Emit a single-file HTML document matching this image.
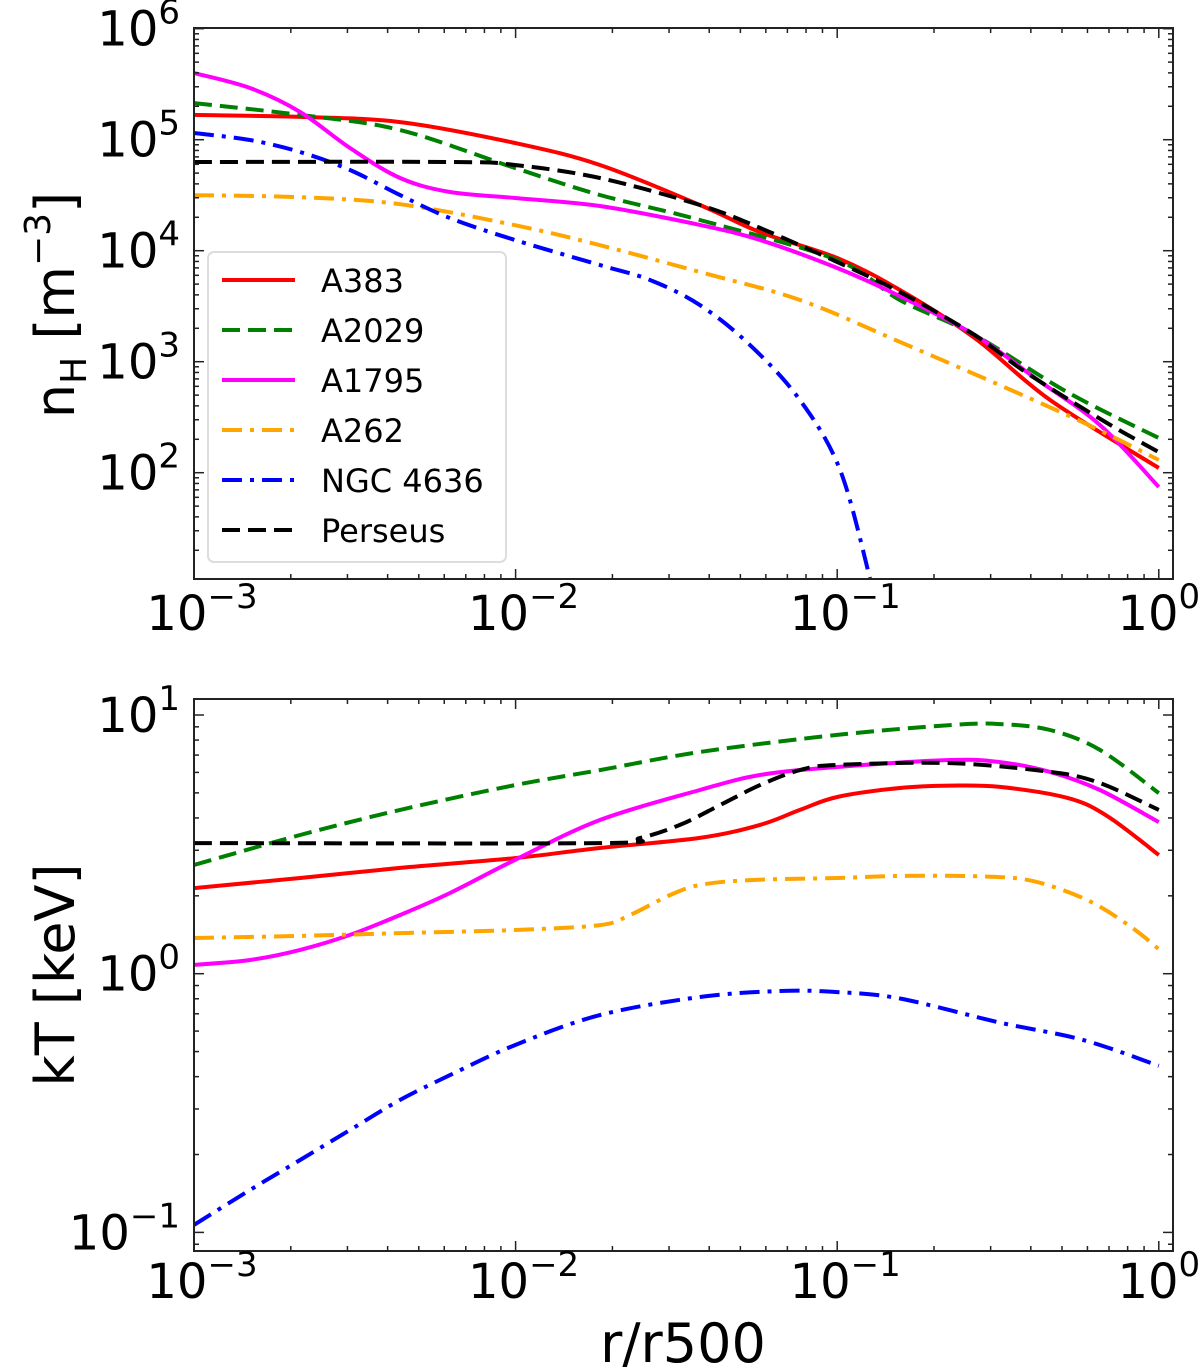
<!DOCTYPE html>
<html><head><meta charset="utf-8"><style>
body{margin:0;background:#fff;}
svg{display:block;font-family:"DejaVu Sans","Liberation Sans",sans-serif;}
</style></head><body>
<svg id="chart" width="1200" height="1370" xmlns="http://www.w3.org/2000/svg"></svg>
<script>
// ---- data (log10 r/r500, log10 value) ----
const seriesNames = ["A383","A2029","A1795","A262","NGC 4636","Perseus"];
const seriesColors = ["#ff0000","#008000","#ff00ff","#ffa500","#0000ff","#000000"];
const seriesDash = ["", "18,8", "", "20,8,4,8", "20,8,4,8", "18,8"];
// top panel: density
const nH_A383_x = [-3,-2.67,-2.359,-2.002,-1.738,-1.427,-1.24,-1.0,-0.805,-0.572,-0.338,0];
const nH_A383_y = [5.223,5.205,5.159,4.97,4.772,4.412,4.168,3.934,3.646,3.213,2.655,2.042];
const nH_A2029_x = [-3,-2.67,-2.359,-2.002,-1.738,-1.427,-1.0,-0.805,-0.572,-0.285,0];
const nH_A2029_y = [5.33,5.223,5.087,4.745,4.502,4.277,3.916,3.555,3.24,2.727,2.313];
const nH_A1795_x = [-3,-2.826,-2.67,-2.515,-2.359,-2.204,-2.002,-1.738,-1.427,-1.24,-1.0,-0.805,-0.572,-0.385,-0.183,0];
const nH_A1795_y = [5.601,5.466,5.25,4.925,4.655,4.529,4.475,4.403,4.232,4.096,3.844,3.59,3.24,2.853,2.43,1.871];
const nH_A262_x = [-3,-2.67,-2.359,-2.002,-1.738,-1.427,-1.116,-0.805,-0.285,0];
const nH_A262_y = [4.5,4.482,4.419,4.23,4.05,3.808,3.556,3.178,2.52,2.114];
const nH_N4636_x = [-3,-2.826,-2.67,-2.515,-2.359,-2.204,-2.002,-1.738,-1.582,-1.427,-1.271,-1.116,-0.991,-0.898];
const nH_N4636_y = [5.06,4.997,4.889,4.727,4.501,4.294,4.096,3.871,3.736,3.51,3.15,2.655,2.024,1.05];
const nH_Per_x = [-3,-2.204,-2.002,-1.738,-1.427,-1.24,-1.0,-0.805,-0.572,-0.41,-0.161,0];
const nH_Per_y = [4.799,4.799,4.772,4.655,4.412,4.205,3.898,3.628,3.24,2.898,2.448,2.186];
// bottom panel: temperature
const kT_A383_x = [-3,-2.67,-2.359,-2.002,-1.738,-1.427,-1.24,-1.116,-1.0,-0.805,-0.649,-0.494,-0.285,-0.161,0];
const kT_A383_y = [0.331,0.37,0.409,0.447,0.486,0.525,0.575,0.633,0.683,0.718,0.727,0.722,0.68,0.61,0.459];
const kT_A2029_x = [-3,-2.67,-2.359,-2.002,-1.738,-1.427,-1.0,-0.649,-0.494,-0.338,-0.183,0];
const kT_A2029_y = [0.42,0.536,0.633,0.729,0.787,0.857,0.923,0.961,0.965,0.942,0.865,0.698];
const kT_A1795_x = [-3,-2.826,-2.67,-2.515,-2.359,-2.204,-2.002,-1.738,-1.427,-1.24,-1.0,-0.649,-0.494,-0.338,-0.183,0];
const kT_A1795_y = [0.034,0.053,0.092,0.15,0.227,0.312,0.44,0.594,0.71,0.768,0.799,0.826,0.818,0.78,0.71,0.586];
const kT_A262_x = [-3,-2.67,-2.359,-2.002,-1.738,-1.644,-1.52,-1.427,-1.271,-1.0,-0.805,-0.547,-0.391,-0.223,-0.09,0];
const kT_A262_y = [0.138,0.146,0.157,0.169,0.188,0.227,0.304,0.343,0.362,0.37,0.378,0.376,0.358,0.285,0.184,0.095];
const kT_N4636_x = [-3,-2.826,-2.67,-2.515,-2.359,-2.204,-2.002,-1.738,-1.427,-1.178,-1.0,-0.805,-0.494,-0.236,0];
const kT_N4636_y = [-0.971,-0.836,-0.72,-0.604,-0.488,-0.392,-0.276,-0.16,-0.09,-0.067,-0.071,-0.096,-0.189,-0.256,-0.356];
const kT_Per_x = [-3,-1.738,-1.613,-1.489,-1.364,-1.24,-1.116,-1.0,-0.649,-0.338,-0.183,0];
const kT_Per_y = [0.505,0.505,0.525,0.575,0.652,0.729,0.787,0.807,0.814,0.78,0.737,0.633];
const xTickExps = [-3,-2,-1,0];
const topTickExps = [2,3,4,5,6];
const botTickExps = [-1,0,1];

const NS="http://www.w3.org/2000/svg";
const svg=document.getElementById('chart');
function mk(tag,attrs,parent){const e=document.createElementNS(NS,tag);for(const k in attrs)e.setAttribute(k,attrs[k]);(parent||svg).appendChild(e);return e;}

const X0=194, XD=321.6, XL=194, XR=1173;
function sx(lx){return X0+(lx+3)*XD;}
function smoothPath(P){
  let d='M'+P[0][0].toFixed(1)+','+P[0][1].toFixed(1);
  for(let i=0;i<P.length-1;i++){
    const p0=P[Math.max(i-1,0)],p1=P[i],p2=P[i+1],p3=P[Math.min(i+2,P.length-1)];
    const c1x=p1[0]+(p2[0]-p0[0])/6,c1y=p1[1]+(p2[1]-p0[1])/6;
    const c2x=p2[0]-(p3[0]-p1[0])/6,c2y=p2[1]-(p3[1]-p1[1])/6;
    d+=' C'+c1x.toFixed(1)+','+c1y.toFixed(1)+' '+c2x.toFixed(1)+','+c2y.toFixed(1)+' '+p2[0].toFixed(1)+','+p2[1].toFixed(1);
  }
  return d;
}
const panels=[
 {top:28,bottom:579,y0:28.7,y0exp:6,yd:111,ymin:1.045,ymax:6.0,exps:topTickExps,name:'density-panel',
  data:[[nH_A383_x,nH_A383_y],[nH_A2029_x,nH_A2029_y],[nH_A1795_x,nH_A1795_y],[nH_A262_x,nH_A262_y],[nH_N4636_x,nH_N4636_y],[nH_Per_x,nH_Per_y]],xlabY:630},
 {top:699,bottom:1251,y0:715,y0exp:1,yd:258.7,ymin:-1.07,ymax:1.06,exps:botTickExps,name:'temperature-panel',
  data:[[kT_A383_x,kT_A383_y],[kT_A2029_x,kT_A2029_y],[kT_A1795_x,kT_A1795_y],[kT_A262_x,kT_A262_y],[kT_N4636_x,kT_N4636_y],[kT_Per_x,kT_Per_y]],xlabY:1298}
];
function supLabel(g,x,y,base,exp,anchor){
  const t=mk('text',{x:x,y:y,'font-size':48,'text-anchor':anchor,fill:'#000'},g);
  const a=mk('tspan',{},t);a.textContent=base;
  const b=mk('tspan',{dy:-22,'font-size':34},t);b.textContent=exp;
  return t;
}
panels.forEach(p=>{
  const g=mk('g',{});
  
  
  const sy=v=>p.y0+(p.y0exp-v)*p.yd;
  const clipId='clip'+p.name;
  const cp=mk('clipPath',{id:clipId},g);mk('rect',{x:XL,y:p.top,width:XR-XL,height:p.bottom-p.top},cp);
  p.data.forEach((d,i)=>{
    const P=d[0].map((lx,j)=>[sx(lx),sy(d[1][j])]);
    const pl=mk('path',{d:smoothPath(P),fill:'none',stroke:seriesColors[i],'stroke-width':4,'stroke-linejoin':'round','clip-path':'url(#'+clipId+')'},g);
    if(seriesDash[i])pl.setAttribute('stroke-dasharray',seriesDash[i]);
    
    
  });
  const fr=mk('rect',{x:XL,y:p.top,width:XR-XL,height:p.bottom-p.top,fill:'none',stroke:'#222','stroke-width':2},g);
  
  
  for(let e=-3;e<=0;e++){for(let m=1;m<10;m++){const lx=e+Math.log10(m);if(lx>0.043)break;const x=sx(lx);const L=m===1?10:5;
    mk('line',{x1:x,x2:x,y1:p.bottom,y2:p.bottom-L,stroke:'#222','stroke-width':1.5},g);
    mk('line',{x1:x,x2:x,y1:p.top,y2:p.top+L,stroke:'#222','stroke-width':1.5},g);}}
  xTickExps.forEach(e=>{const t=supLabel(g,sx(e)+(e===0?0:8),p.xlabY,'10',e===0?'0':'\u2212'+(-e),'middle');
    });
  for(let e=Math.floor(p.ymin);e<=Math.ceil(p.ymax);e++){for(let m=1;m<10;m++){const ly=e+Math.log10(m);if(ly<p.ymin||ly>p.ymax)continue;const y=sy(ly);const L=m===1?10:5;
    mk('line',{x1:XL,x2:XL+L,y1:y,y2:y,stroke:'#222','stroke-width':1.5},g);
    mk('line',{x1:XR,x2:XR-L,y1:y,y2:y,stroke:'#222','stroke-width':1.5},g);}}
  p.exps.forEach(e=>{const t=supLabel(g,180,sy(e)+17,'10',e<0?'\u2212'+(-e):String(e),'end');
    });
});
let t=mk('text',{x:0,y:0,'font-size':54,'text-anchor':'middle',transform:'translate(74,305) rotate(-90)'});

t.innerHTML='n<tspan dy="12" font-size="36">H</tspan><tspan dy="-12"> [m</tspan><tspan dy="-24" font-size="36">\u22123</tspan><tspan dy="24">]</tspan>';
t=mk('text',{x:0,y:0,'font-size':54,'text-anchor':'middle',transform:'translate(74,975) rotate(-90)'});

t.textContent='kT [keV]';
t=mk('text',{x:683,y:1362,'font-size':54,'text-anchor':'middle'});

t.textContent='r/r500';
const lg=mk('g',{});

mk('rect',{x:208,y:252,width:298,height:310,rx:6,fill:'#fff','fill-opacity':0.8,stroke:'#ddd','stroke-width':2},lg);
seriesNames.forEach((n,i)=>{
  const y=280+i*50;
  const ge=mk('g',{},lg);
  
  
  const l=mk('line',{x1:222,x2:295,y1:y,y2:y,stroke:seriesColors[i],'stroke-width':4},ge);
  if(seriesDash[i])l.setAttribute('stroke-dasharray',seriesDash[i]);
  const tx=mk('text',{x:321,y:y+12,'font-size':32},ge);tx.textContent=n;
});
</script>
</body></html>
